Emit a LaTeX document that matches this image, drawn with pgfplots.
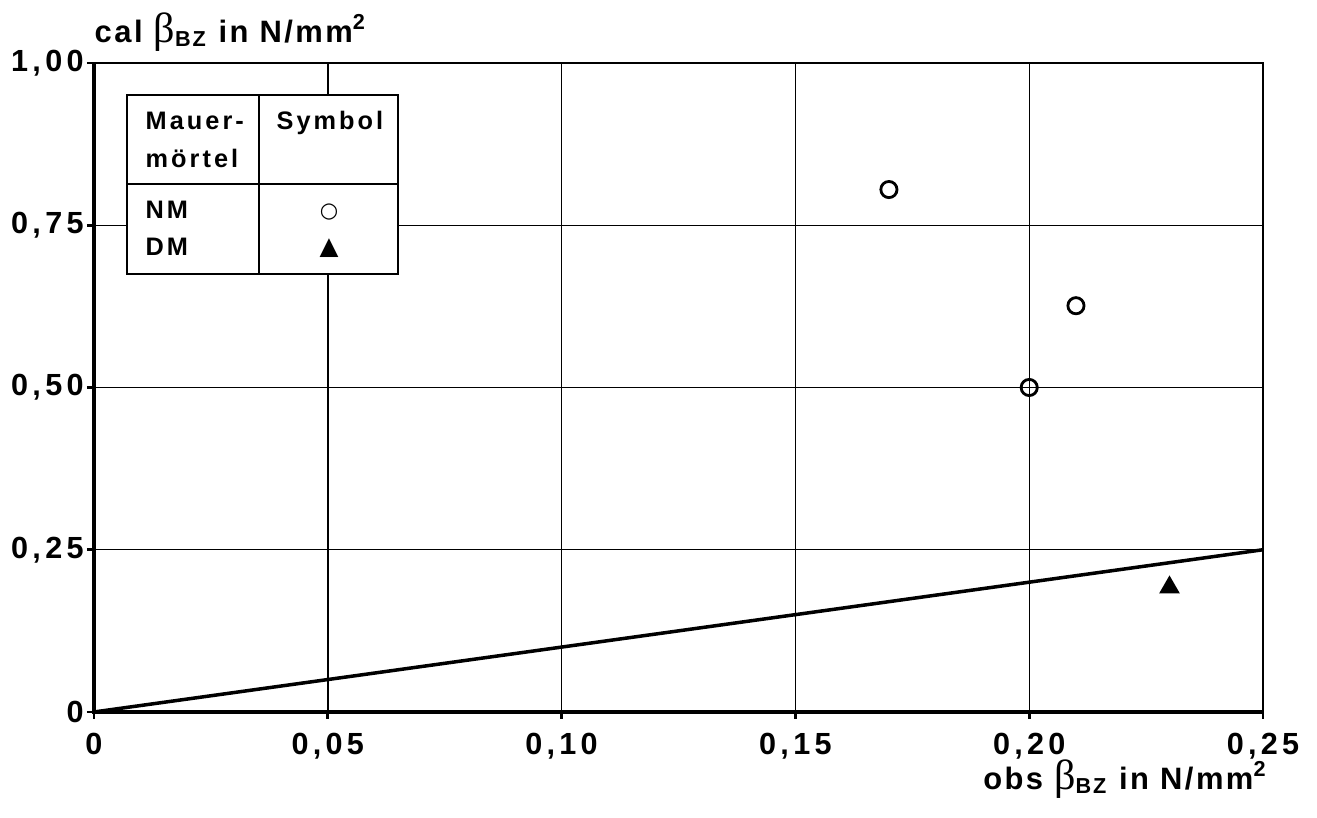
\documentclass[border=0pt]{standalone}
\usepackage{fontspec}
\setmainfont{Liberation Sans}
\newfontfamily\greekfont{Liberation Serif}
\newfontfamily\symfont{DejaVu Sans}
\usepackage{pgfplots}
\pgfplotsset{compat=1.18}

\newcommand{\lab}[1]{#1 {\greekfont\mdseries\fontsize{12}{10}\selectfont β}\textsubscript{BZ} in N/mm\textsuperscript{2}}

\begin{document}
\begin{tikzpicture}
\useasboundingbox (-0.94,-1.06) rectangle (12.23,7.12);
\begin{axis}[
  at={(0,0)}, anchor=origin,
  scale only axis,
  width=11.69cm, height=6.49cm,
  xmin=0, xmax=0.25, ymin=0, ymax=1,
  xtick={0,0.05,0.10,0.15,0.20,0.25},
  xticklabels={0,{0,05},{0,10},{0,15},{0,20},{0,25}},
  ytick={0,0.25,0.5,0.75,1},
  yticklabels={0,{0,25},{0,50},{0,75},{1,00}},
  xtick pos=bottom, ytick pos=left,
  tick align=outside, major tick length=0.07cm,
  every tick/.style={black, line width=0.8pt},
  grid=major,
  major grid style={black, line width=0.4pt},
  axis line style={black, line width=0.4pt},
  every tick label/.append style={font=\fontsize{8.7}{10}\selectfont\bfseries\addfontfeature{LetterSpace=14}},
  xticklabel style={yshift=-0.02cm},
  yticklabel style={xshift=0.09cm},
  xlabel={\lab{obs}},
  ylabel={\lab{cal}},
  every axis x label/.style={at={(rel axis cs:1,0)}, anchor=base east, inner sep=0pt,
    xshift=0.05cm, yshift=-0.78cm,
    font=\fontsize{8.8}{10}\selectfont\bfseries\addfontfeature{LetterSpace=8}},
  every axis y label/.style={at={(rel axis cs:0,1)}, anchor=base west, inner sep=0pt,
    yshift=0.2cm,
    font=\fontsize{8.8}{10}\selectfont\bfseries\addfontfeature{LetterSpace=8}},
  clip=false,
]
\addplot[black, line width=1pt] coordinates {(0,0) (0.25,0.25)};
\addplot[only marks, mark=o, mark size=2.3pt, mark options={line width=0.8pt}, black]
  coordinates {(0.17,0.805) (0.21,0.626) (0.20,0.500)};
\addplot[only marks, mark=triangle*, mark size=3pt, black]
  coordinates {(0.23,0.192)};
\draw[line width=1.1pt] (rel axis cs:0,1) -- (rel axis cs:0,0) -- (rel axis cs:1,0);
\end{axis}
% legend table
\begin{scope}[shift={(0.33,6.17)}, font=\fontsize{7.2}{8}\selectfont\bfseries\addfontfeature{LetterSpace=12}]
\fill[white] (0,0) rectangle (2.71,-1.79);
\draw[line width=0.7pt] (0,0) rectangle (2.71,-1.79);
\draw[line width=0.4pt] (1.32,0) -- (1.32,-1.79);
\draw[line width=0.4pt] (0,-0.89) -- (2.71,-0.89);
\node[anchor=base west, inner sep=0] at (0.18,-0.35) {Mauer-};
\node[anchor=base west, inner sep=0] at (0.18,-0.73) {mörtel};
\node[anchor=base, inner sep=0] at (2.03,-0.35) {Symbol};
\node[anchor=base west, inner sep=0] at (0.18,-1.24) {NM};
\node[anchor=base west, inner sep=0] at (0.18,-1.61) {DM};
\node[inner sep=0] at (2.02,-1.17) {\symfont\mdseries\fontsize{6}{8}\selectfont ○};
\node[inner sep=0] at (2.02,-1.53) {\symfont\mdseries\fontsize{7}{8}\selectfont ▲};
\end{scope}
\end{tikzpicture}
\end{document}
